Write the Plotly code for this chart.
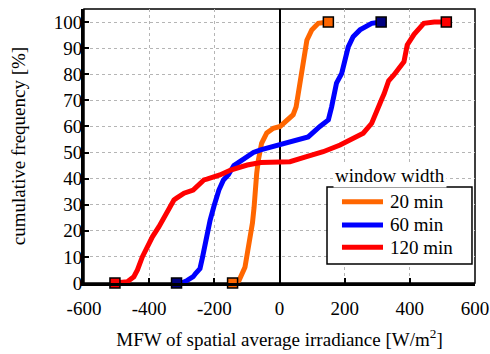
import plotly.graph_objects as go

# ---- data ----
x_20 = [-144, -124, -106, -99, -90, -83, -78, -75, -70, -65, -55, -39, -19, 2, 22, 42, 51, 58, 63, 68, 75, 84, 99, 119, 150]
y_20 = [0, 1, 6, 11.5, 16.5, 23, 29, 35.5, 42, 47, 53.5, 57.5, 59.3, 60, 62.5, 64.5, 67.5, 72.8, 77.8, 83, 88, 93, 97, 99.5, 100]

x_60 = [-316, -295, -283, -265, -257, -244, -236, -226, -213, -201, -186, -172, -157, -140, -120, -99, -80, -58, -17, 2, 42, 88, 124, 150, 160, 167, 175, 191, 201, 211, 226, 247, 283, 312]
y_60 = [0, 0.3, 1, 2.4, 3.7, 5.5, 10, 16.5, 24, 29.5, 35.6, 39.5, 41.5, 45, 46.5, 48.4, 50, 51, 52.3, 53, 54.1, 56, 60, 62.5, 67.5, 72.7, 76.6, 80.3, 85.4, 90.5, 94.4, 97, 99.5, 100]

x_120 = [-505, -467, -447, -436, -421, -406, -390, -370, -349, -324, -316, -293, -265, -232, -223, -183, -150, -99, -58, 14, 32, 83, 134, 186, 216, 257, 283, 298, 314, 321, 335, 351, 370, 382, 392, 413, 443, 475, 512]
y_120 = [0, 0.5, 2.4, 5, 10, 14, 17.7, 21.6, 26.7, 31.8, 32.5, 34.4, 35.6, 39.5, 39.8, 41.4, 43.3, 45.2, 46.2, 46.2, 46.5, 48.4, 50.3, 52.9, 54.8, 57.4, 61.2, 66.3, 70.5, 72.5, 77.5, 79.7, 83, 84.8, 91.2, 95.3, 99.5, 100, 100]

series_names = ["20 min", "60 min", "120 min"]
legend_title = "window width"
x_tick_vals = [-600, -400, -200, 0, 200, 400, 600]
x_tick_text = ["-600", "-400", "-200", "0", "200", "400", "600"]
y_tick_vals = [0, 10, 20, 30, 40, 50, 60, 70, 80, 90, 100]

FONT = "Liberation Serif"
line_colors = ["#FF6600", "#0000FF", "#FF0000"]
marker_colors = ["#FF6600", "#000080", "#FF0000"]

fig = go.Figure()
for xs, ys, name, lc in zip([x_20, x_60, x_120], [y_20, y_60, y_120], series_names, line_colors):
    fig.add_trace(go.Scatter(x=xs, y=ys, mode="lines", name=name, showlegend=False,
                             line=dict(color=lc, width=5)))
for xs, ys, mc in zip([x_20, x_60, x_120], [y_20, y_60, y_120], marker_colors):
    fig.add_trace(go.Scatter(x=[xs[0], xs[-1]], y=[ys[0], ys[-1]], mode="markers",
                             showlegend=False, cliponaxis=False,
                             marker=dict(symbol="square", size=10, color=mc,
                                         line=dict(color="black", width=1.5))))

# manual legend (box, sample lines, labels)
shapes = [dict(type="rect", xref="paper", yref="paper", x0=0, y0=0, x1=1, y1=1,
               line=dict(color="black", width=1.5), layer="below"),
          dict(type="rect", xref="paper", yref="paper", x0=0.6215, x1=0.9923,
               y0=0.0693, y1=0.3504, fillcolor="white",
               line=dict(color="black", width=1.5), layer="above")]
annotations = [dict(text=legend_title, xref="paper", yref="paper",
                    x=0.783, y=0.394, xanchor="center", yanchor="middle",
                    showarrow=False, bgcolor="white",
                    font=dict(family=FONT, size=19, color="black"))]
row_y = [0.2967, 0.2117, 0.1303]
for name, lc, ry in zip(series_names, line_colors, row_y):
    shapes.append(dict(type="line", xref="paper", yref="paper", x0=0.6598, x1=0.7647,
                       y0=ry, y1=ry, line=dict(color=lc, width=5), layer="above"))
    annotations.append(dict(text=name, xref="paper", yref="paper", x=0.7775, y=ry,
                            xanchor="left", yanchor="middle", showarrow=False,
                            font=dict(family=FONT, size=19, color="black")))

fig.update_layout(
    width=490, height=354,
    margin=dict(l=84, r=15, t=9, b=71),
    paper_bgcolor="white", plot_bgcolor="white",
    font=dict(family=FONT, size=19, color="black"),
    showlegend=False,
    xaxis=dict(range=[-600, 600], tickvals=x_tick_vals, ticktext=x_tick_text,
               showgrid=True, gridcolor="#b5b5b5", griddash="dot", gridwidth=1,
               showline=True, linecolor="black", linewidth=3,
               ticks="inside", ticklen=5, tickwidth=2, tickcolor="black",
               zeroline=True, zerolinecolor="black", zerolinewidth=1.5,
               ticklabelstandoff=6,
               tickfont=dict(family=FONT, size=19, color="black"),
               title=dict(text="MFW of spatial average irradiance [W/m<sup>2</sup>]",
                          font=dict(family=FONT, size=19, color="black"), standoff=15),
               automargin=False),
    yaxis=dict(range=[0, 105], tickvals=y_tick_vals,
               showgrid=True, gridcolor="#b5b5b5", griddash="dot", gridwidth=1,
               showline=True, linecolor="black", linewidth=3,
               ticks="inside", ticklen=5, tickwidth=2, tickcolor="black",
               zeroline=False,
               ticklabelstandoff=-5,
               tickfont=dict(family=FONT, size=19, color="black"),
               title=dict(text="cumulative frequency [%]",
                          font=dict(family=FONT, size=19, color="black"), standoff=24),
               automargin=False),
    shapes=shapes,
    annotations=annotations,
)

fig.write_html("out.html", config={"displayModeBar": False},
               post_script="document.body.style.margin='0';document.body.style.padding='0';")
